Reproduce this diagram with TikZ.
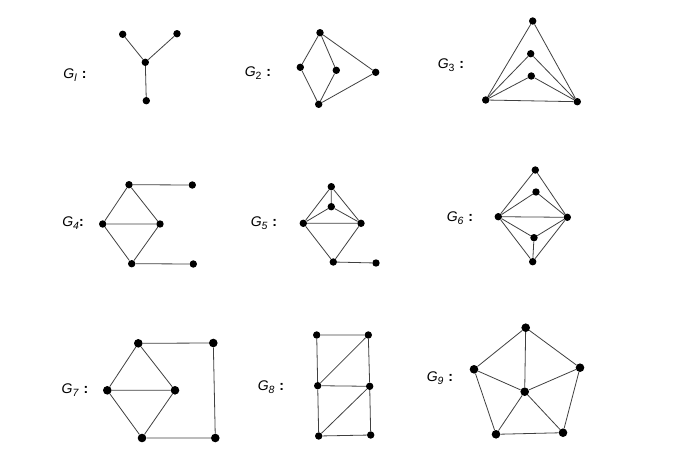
\documentclass[tikz,border=0pt]{standalone}
\usepackage{fontspec}
\setmainfont{Liberation Sans}
\newcommand{\glab}[1]{\textit{G}\raisebox{-0.35ex}{\fontsize{10.5}{12}\selectfont #1}\hspace{0.35em}\textbf{:}}
\begin{document}
\begin{tikzpicture}[x=1pt,y=-1pt,
  vtx/.style={circle,fill=black,inner sep=0pt,minimum size=7.4pt},
  bigvtx/.style={circle,fill=black,inner sep=0pt,minimum size=8.6pt},
  edge/.style={draw=black!75,line width=0.8pt},
  glabel/.style={inner sep=0pt,font=\fontsize{14}{16}\selectfont}]
\useasboundingbox (0,0) rectangle (673,453);
% G1
\node[glabel] (l1) at (75,75) {\glab{\textit{l}}};
\node[vtx] (a1) at (122.7,34.3) {};
\node[vtx] (a2) at (177,33.7) {};
\node[vtx] (a3) at (145.3,62.3) {};
\node[vtx] (a4) at (146.3,100.7) {};
\draw[edge] (a1)--(a3) (a2)--(a3) (a3)--(a4);
% G2
\node[glabel] (l2) at (258,73) {\glab{2}};
\node[vtx] (b1) at (320,32.7) {};
\node[vtx] (b2) at (300.3,67.3) {};
\node[vtx] (b3) at (336.3,70.3) {};
\node[vtx] (b4) at (375.7,72.3) {};
\node[vtx] (b5) at (318.7,104.3) {};
\draw[edge] (b1)--(b2) (b1)--(b3) (b1)--(b4) (b2)--(b5) (b3)--(b5) (b4)--(b5);
% G3
\node[glabel] (l3) at (451,65) {\glab{3}};
\node[vtx] (c1) at (532.7,21) {};
\node[vtx] (c2) at (530.7,53.7) {};
\node[vtx] (c3) at (531.3,76) {};
\node[vtx] (c4) at (485.7,100) {};
\node[vtx] (c5) at (577.3,101.7) {};
\draw[edge] (c1)--(c4) (c1)--(c5) (c2)--(c4) (c2)--(c5) (c3)--(c4) (c3)--(c5) (c4)--(c5);
% G4
\node[glabel] (l4) at (73,223) {\textit{G}\raisebox{-0.35ex}{\fontsize{10.5}{12}\selectfont\textit{4}}\textbf{:}};
\node[vtx] (d1) at (129,184.7) {};
\node[vtx] (d2) at (192.3,185) {};
\node[vtx] (d3) at (102.7,224) {};
\node[vtx] (d4) at (160,224) {};
\node[vtx] (d5) at (131.7,263.7) {};
\node[vtx] (d6) at (193.3,264) {};
\draw[edge] (d1)--(d2) (d1)--(d3) (d1)--(d4) (d3)--(d4) (d3)--(d5) (d4)--(d5) (d5)--(d6);
% G5
\node[glabel] (l5) at (264,223) {\glab{\textit{5}}};
\node[vtx] (e1) at (331.3,186.7) {};
\node[vtx] (e2) at (331.3,206.7) {};
\node[vtx] (e3) at (303.3,223.3) {};
\node[vtx] (e4) at (361,223.3) {};
\node[vtx] (e5) at (333.3,262) {};
\node[vtx] (e6) at (376,263) {};
\draw[edge] (e1)--(e3) (e1)--(e4) (e1)--(e2) (e2)--(e3) (e2)--(e4) (e3)--(e4) (e3)--(e5) (e4)--(e5) (e5)--(e6);
% G6
\node[glabel] (l6) at (460,218) {\glab{\textit{6}}};
\node[vtx] (f1) at (535.3,170) {};
\node[vtx] (f2) at (536,192) {};
\node[vtx] (f3) at (498.3,216.7) {};
\node[vtx] (f4) at (567.3,217.3) {};
\node[vtx] (f5) at (534,237.7) {};
\node[vtx] (f6) at (532.7,261.7) {};
\draw[edge] (f1)--(f3) (f1)--(f4) (f2)--(f3) (f2)--(f4) (f3)--(f4) (f3)--(f5) (f4)--(f5) (f5)--(f6) (f3)--(f6) (f4)--(f6);
% G7
\node[glabel] (l7) at (75,390) {\glab{\textit{7}}};
\node[bigvtx] (g1) at (138.3,343.3) {};
\node[bigvtx] (g2) at (213.3,343) {};
\node[bigvtx] (g3) at (107.3,390.3) {};
\node[bigvtx] (g4) at (175,390.3) {};
\node[bigvtx] (g5) at (142,438) {};
\node[bigvtx] (g6) at (215.3,438) {};
\draw[edge] (g1)--(g2) (g2)--(g6) (g5)--(g6) (g1)--(g3) (g1)--(g4) (g3)--(g4) (g3)--(g5) (g4)--(g5);
% G8
\node[glabel] (l8) at (271,387) {\glab{\textit{8}}};
\node[vtx] (h1) at (316.7,335) {};
\node[vtx] (h2) at (368.3,335) {};
\node[vtx] (h3) at (317.7,385.7) {};
\node[vtx] (h4) at (369.7,386.3) {};
\node[vtx] (h5) at (318.7,436) {};
\node[vtx] (h6) at (370.7,435) {};
\draw[edge] (h1)--(h2) (h1)--(h3) (h2)--(h4) (h2)--(h3) (h3)--(h4) (h3)--(h5) (h4)--(h6) (h4)--(h5) (h5)--(h6);
% G9
\node[glabel] (l9) at (440,378) {\glab{\textit{9}}};
\node[bigvtx] (k1) at (525.7,327.7) {};
\node[bigvtx] (k2) at (474,369.3) {};
\node[bigvtx] (k3) at (580,367.7) {};
\node[bigvtx] (k4) at (524.7,391.7) {};
\node[bigvtx] (k5) at (496,434.3) {};
\node[bigvtx] (k6) at (563,432.7) {};
\draw[edge] (k1)--(k2) (k1)--(k3) (k1)--(k4) (k2)--(k4) (k3)--(k4) (k2)--(k5) (k3)--(k6) (k5)--(k6) (k4)--(k5) (k4)--(k6);
\end{tikzpicture}
\end{document}
